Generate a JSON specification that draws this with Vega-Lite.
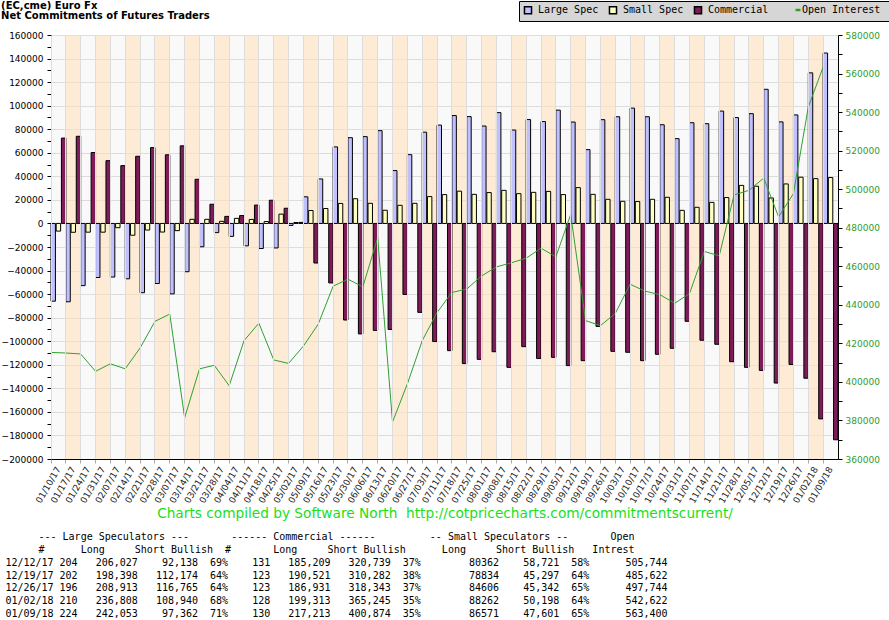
{
  "$schema": "https://vega.github.io/schema/vega-lite/v6.json",
  "padding": {"left": 1, "top": 0, "right": 0, "bottom": 0},
  "spacing": 10,
  "config": {
    "font": "DejaVu Sans",
    "axis": {"labelFont": "DejaVu Sans", "titleFont": "DejaVu Sans"},
    "view": {"stroke": null}
  },
  "vconcat": [
    {
      "width": 787,
      "height": 424,
      "view": {"fill": "#f9f9f9", "stroke": null},
      "title": {
        "text": ["(EC,cme) Euro Fx", "Net Commitments of Futures Traders"],
        "anchor": "start",
        "frame": "bounds",
        "font": "DejaVu Sans",
        "fontSize": 10,
        "fontWeight": "bold",
        "lineHeight": 10,
        "offset": 10,
        "color": "black"
      },
      "data": {
        "values": [
          {"date": "01/10/17", "Large Spec": -66000, "Small Spec": -6500, "Commercial": 72500, "Open Interest": 415300},
          {"date": "01/17/17", "Large Spec": -66500, "Small Spec": -7500, "Commercial": 74000, "Open Interest": 415000},
          {"date": "01/24/17", "Large Spec": -52800, "Small Spec": -7400, "Commercial": 60200, "Open Interest": 414500},
          {"date": "01/31/17", "Large Spec": -45900, "Small Spec": -7400, "Commercial": 53300, "Open Interest": 405500},
          {"date": "02/07/17", "Large Spec": -45500, "Small Spec": -3600, "Commercial": 49100, "Open Interest": 409400},
          {"date": "02/14/17", "Large Spec": -47000, "Small Spec": -10000, "Commercial": 57000, "Open Interest": 406800},
          {"date": "02/21/17", "Large Spec": -58800, "Small Spec": -5600, "Commercial": 64400, "Open Interest": 417600},
          {"date": "02/28/17", "Large Spec": -51000, "Small Spec": -7300, "Commercial": 58300, "Open Interest": 431400},
          {"date": "03/07/17", "Large Spec": -59800, "Small Spec": -6100, "Commercial": 65900, "Open Interest": 435200},
          {"date": "03/14/17", "Large Spec": -41000, "Small Spec": 3500, "Commercial": 37500, "Open Interest": 381400},
          {"date": "03/21/17", "Large Spec": -19800, "Small Spec": 3500, "Commercial": 16300, "Open Interest": 406800},
          {"date": "03/28/17", "Large Spec": -7800, "Small Spec": 1800, "Commercial": 6000, "Open Interest": 408600},
          {"date": "04/04/17", "Large Spec": -11000, "Small Spec": 4300, "Commercial": 6700, "Open Interest": 398000},
          {"date": "04/11/17", "Large Spec": -19000, "Small Spec": 3400, "Commercial": 15600, "Open Interest": 421400},
          {"date": "04/18/17", "Large Spec": -21300, "Small Spec": 1600, "Commercial": 19700, "Open Interest": 430500},
          {"date": "04/25/17", "Large Spec": -20800, "Small Spec": 7900, "Commercial": 12900, "Open Interest": 411400},
          {"date": "05/02/17", "Large Spec": -1700, "Small Spec": 800, "Commercial": 900, "Open Interest": 409600},
          {"date": "05/09/17", "Large Spec": 22600, "Small Spec": 11000, "Commercial": -33600, "Open Interest": 418600},
          {"date": "05/16/17", "Large Spec": 37800, "Small Spec": 12700, "Commercial": -50500, "Open Interest": 430000},
          {"date": "05/23/17", "Large Spec": 65000, "Small Spec": 17000, "Commercial": -82000, "Open Interest": 449700},
          {"date": "05/30/17", "Large Spec": 72800, "Small Spec": 21000, "Commercial": -93800, "Open Interest": 453300},
          {"date": "06/06/17", "Large Spec": 73700, "Small Spec": 17100, "Commercial": -90800, "Open Interest": 449300},
          {"date": "06/13/17", "Large Spec": 78800, "Small Spec": 11200, "Commercial": -90000, "Open Interest": 474800},
          {"date": "06/20/17", "Large Spec": 44900, "Small Spec": 15400, "Commercial": -60300, "Open Interest": 379200},
          {"date": "06/27/17", "Large Spec": 58400, "Small Spec": 17100, "Commercial": -75500, "Open Interest": 399000},
          {"date": "07/03/17", "Large Spec": 77500, "Small Spec": 22800, "Commercial": -100300, "Open Interest": 421400},
          {"date": "07/11/17", "Large Spec": 83500, "Small Spec": 24500, "Commercial": -108000, "Open Interest": 436000},
          {"date": "07/18/17", "Large Spec": 91600, "Small Spec": 27400, "Commercial": -119000, "Open Interest": 446400},
          {"date": "07/25/17", "Large Spec": 90700, "Small Spec": 24700, "Commercial": -115400, "Open Interest": 448200},
          {"date": "08/01/17", "Large Spec": 82700, "Small Spec": 26200, "Commercial": -108900, "Open Interest": 455000},
          {"date": "08/08/17", "Large Spec": 94100, "Small Spec": 28100, "Commercial": -122200, "Open Interest": 459700},
          {"date": "08/15/17", "Large Spec": 79300, "Small Spec": 25300, "Commercial": -104600, "Open Interest": 461800},
          {"date": "08/22/17", "Large Spec": 88200, "Small Spec": 26400, "Commercial": -114600, "Open Interest": 464200},
          {"date": "08/29/17", "Large Spec": 86500, "Small Spec": 27200, "Commercial": -113700, "Open Interest": 469400},
          {"date": "09/05/17", "Large Spec": 96200, "Small Spec": 24500, "Commercial": -120700, "Open Interest": 464900},
          {"date": "09/12/17", "Large Spec": 86100, "Small Spec": 30400, "Commercial": -116500, "Open Interest": 486900},
          {"date": "09/19/17", "Large Spec": 62700, "Small Spec": 24700, "Commercial": -87400, "Open Interest": 431800},
          {"date": "09/26/17", "Large Spec": 88100, "Small Spec": 20500, "Commercial": -108600, "Open Interest": 429200},
          {"date": "10/03/17", "Large Spec": 90600, "Small Spec": 18800, "Commercial": -109400, "Open Interest": 435500},
          {"date": "10/10/17", "Large Spec": 97900, "Small Spec": 18600, "Commercial": -116500, "Open Interest": 450700},
          {"date": "10/17/17", "Large Spec": 90600, "Small Spec": 20500, "Commercial": -111100, "Open Interest": 447100},
          {"date": "10/24/17", "Large Spec": 83800, "Small Spec": 22200, "Commercial": -106000, "Open Interest": 445300},
          {"date": "10/31/17", "Large Spec": 72000, "Small Spec": 11100, "Commercial": -83100, "Open Interest": 440800},
          {"date": "11/07/17", "Large Spec": 85500, "Small Spec": 13700, "Commercial": -99200, "Open Interest": 445800},
          {"date": "11/14/17", "Large Spec": 84700, "Small Spec": 17900, "Commercial": -102600, "Open Interest": 467700},
          {"date": "11/21/17", "Large Spec": 95400, "Small Spec": 22000, "Commercial": -117400, "Open Interest": 465400},
          {"date": "11/28/17", "Large Spec": 89900, "Small Spec": 32300, "Commercial": -122200, "Open Interest": 497000},
          {"date": "12/05/17", "Large Spec": 93200, "Small Spec": 31600, "Commercial": -124800, "Open Interest": 499400},
          {"date": "12/12/17", "Large Spec": 113889, "Small Spec": 21641, "Commercial": -135530, "Open Interest": 505744},
          {"date": "12/19/17", "Large Spec": 86224, "Small Spec": 33537, "Commercial": -119761, "Open Interest": 485622},
          {"date": "12/26/17", "Large Spec": 92148, "Small Spec": 39264, "Commercial": -131412, "Open Interest": 497744},
          {"date": "01/02/18", "Large Spec": 127868, "Small Spec": 38064, "Commercial": -165932, "Open Interest": 542622},
          {"date": "01/09/18", "Large Spec": 144691, "Small Spec": 38970, "Commercial": -183661, "Open Interest": 563400}
        ]
      },
      "layer": [
        {
          "transform": [
            {"window": [{"op": "row_number", "as": "k"}]},
            {"filter": "datum.k % 2 === 0"}
          ],
          "mark": {"type": "rect", "fill": "#ffe1bc", "opacity": 0.6},
          "encoding": {
            "x": {
              "field": "date",
              "type": "ordinal",
              "scale": {
                "domain": ["01/10/17", "01/17/17", "01/24/17", "01/31/17", "02/07/17", "02/14/17", "02/21/17", "02/28/17", "03/07/17", "03/14/17", "03/21/17", "03/28/17", "04/04/17", "04/11/17", "04/18/17", "04/25/17", "05/02/17", "05/09/17", "05/16/17", "05/23/17", "05/30/17", "06/06/17", "06/13/17", "06/20/17", "06/27/17", "07/03/17", "07/11/17", "07/18/17", "07/25/17", "08/01/17", "08/08/17", "08/15/17", "08/22/17", "08/29/17", "09/05/17", "09/12/17", "09/19/17", "09/26/17", "10/03/17", "10/10/17", "10/17/17", "10/24/17", "10/31/17", "11/07/17", "11/14/17", "11/21/17", "11/28/17", "12/05/17", "12/12/17", "12/19/17", "12/26/17", "01/02/18", "01/09/18"],
                "paddingInner": 0,
                "paddingOuter": 0
              },
              "axis": {
                "title": "Charts compiled by Software North\u00a0 http://cotpricecharts.com/commitmentscurrent/",
                "titleColor": "#19e019",
                "titleFontSize": 13.7,
                "titleFontWeight": "normal",
                "titlePadding": 2,
                "bandPosition": 0,
                "labelAngle": -60,
                "labelAlign": "right",
                "labelBaseline": "middle",
                "labelFontSize": 9,
                "labelColor": "#222222",
                "labelPadding": 4,
                "labelOverlap": false,
                "tickSize": 4,
                "tickColor": "#aaaaaa",
                "domainColor": "black",
                "grid": true,
                "gridColor": "#dddddd"
              }
            }
          }
        },
        {
          "transform": [
            {"fold": ["Large Spec", "Small Spec", "Commercial"], "as": ["series", "net"]}
          ],
          "mark": {"type": "bar", "stroke": "black", "strokeWidth": 1},
          "encoding": {
            "x": {"field": "date", "type": "ordinal"},
            "xOffset": {
              "field": "series",
              "type": "nominal",
              "scale": {"domain": ["Large Spec", "Small Spec", "Commercial"], "paddingInner": 0.15, "paddingOuter": 0}
            },
            "y": {
              "field": "net",
              "type": "quantitative",
              "scale": {"domain": [-200000, 160000], "nice": false},
              "axis": {
                "title": null,
                "tickCount": 36,
                "format": "d",
                "labelExpr": "datum.value % 20000 === 0 ? datum.label : ''",
                "labelFontSize": 9,
                "labelColor": "black",
                "labelPadding": 4,
                "tickSize": 4,
                "tickColor": "black",
                "domainColor": "black",
                "grid": true,
                "gridColor": "#dddddd",
                "gridOpacity": {"condition": {"test": "datum.value % 20000 !== 0", "value": 0}, "value": 1}
              }
            },
            "color": {
              "field": "series",
              "type": "nominal",
              "scale": {
                "domain": ["Large Spec", "Small Spec", "Commercial"],
                "range": ["#c0c0ff", "#ffffc0", "#7d1c58"]
              },
              "legend": {
                "orient": "none",
                "legendX": 468,
                "legendY": -34,
                "direction": "horizontal",
                "title": null,
                "fillColor": "#d6d6d6",
                "strokeColor": "black",
                "padding": 4,
                "symbolSize": 50,
                "symbolType": "square",
                "labelFont": "DejaVu Sans Mono",
                "labelFontSize": 10,
                "labelColor": "black",
                "labelOffset": 5,
                "labelLimit": 0,
                "columnPadding": 7,
                "labelExpr": "datum.label === 'Commercial' ? 'Commercial\u2800\u2800\u2800\u2800\u2800\u2800\u2800\u2800\u2800\u2800\u2800\u2800\u2800\u2800\u2800\u2800\u2800\u2800' : datum.label"
              }
            }
          }
        },
        {
          "mark": {"type": "line", "strokeWidth": 1},
          "encoding": {
            "x": {"field": "date", "type": "ordinal", "bandPosition": 0},
            "y": {
              "field": "Open Interest",
              "type": "quantitative",
              "scale": {"domain": [360000, 580000], "nice": false},
              "axis": {
                "orient": "right",
                "title": null,
                "tickCount": 22,
                "format": "d",
                "labelExpr": "datum.value % 20000 === 0 ? datum.label : ''",
                "labelFontSize": 9,
                "labelColor": "#2e9c2e",
                "labelPadding": 3,
                "tickSize": 4,
                "tickColor": "black",
                "domainColor": "black",
                "grid": false
              }
            },
            "stroke": {
              "datum": "Open Interest",
              "type": "nominal",
              "scale": {"domain": ["Open Interest"], "range": ["#30a030"]},
              "legend": {
                "orient": "none",
                "legendX": 742,
                "legendY": -30,
                "title": null,
                "padding": 0,
                "symbolType": "stroke",
                "symbolSize": 25,
                "symbolStrokeWidth": 2.5,
                "labelOffset": -1,
                "labelColor": "black",
                "labelFont": "DejaVu Sans Mono",
                "labelFontSize": 10
              }
            }
          }
        }
      ],
      "resolve": {"scale": {"y": "independent"}}
    },
    {
      "width": 571,
      "height": 89,
      "view": {"stroke": null},
      "data": {
        "values": [
          {"r": 1, "line": "\u00a0\u00a0\u00a0\u00a0\u00a0\u00a0\u00a0\u00a0\u00a0\u00a0\u00a0--- Large Speculators ---\u00a0\u00a0\u00a0\u00a0\u00a0\u00a0\u00a0------ Commercial ------\u00a0\u00a0\u00a0\u00a0\u00a0\u00a0\u00a0\u00a0\u00a0-- Small Speculators --\u00a0\u00a0\u00a0\u00a0\u00a0\u00a0\u00a0Open"},
          {"r": 2, "line": "\u00a0\u00a0\u00a0\u00a0\u00a0\u00a0\u00a0\u00a0\u00a0\u00a0\u00a0#\u00a0\u00a0\u00a0\u00a0\u00a0\u00a0Long\u00a0\u00a0\u00a0\u00a0\u00a0Short Bullish\u00a0\u00a0#\u00a0\u00a0\u00a0\u00a0\u00a0\u00a0\u00a0Long\u00a0\u00a0\u00a0\u00a0\u00a0Short Bullish\u00a0\u00a0\u00a0\u00a0\u00a0\u00a0Long\u00a0\u00a0\u00a0\u00a0\u00a0Short Bullish\u00a0\u00a0\u00a0Intrest"},
          {"r": 3, "line": "12/12/17 204\u00a0\u00a0\u00a0206,027\u00a0\u00a0\u00a0\u00a092,138\u00a0\u00a069%\u00a0\u00a0\u00a0\u00a0131\u00a0\u00a0\u00a0185,209\u00a0\u00a0\u00a0320,739\u00a0\u00a037%\u00a0\u00a0\u00a0\u00a0\u00a0\u00a0\u00a0\u00a080362\u00a0\u00a0\u00a0\u00a058,721\u00a0\u00a058%\u00a0\u00a0\u00a0\u00a0\u00a0\u00a0505,744"},
          {"r": 4, "line": "12/19/17 202\u00a0\u00a0\u00a0198,398\u00a0\u00a0\u00a0112,174\u00a0\u00a064%\u00a0\u00a0\u00a0\u00a0123\u00a0\u00a0\u00a0190,521\u00a0\u00a0\u00a0310,282\u00a0\u00a038%\u00a0\u00a0\u00a0\u00a0\u00a0\u00a0\u00a0\u00a078834\u00a0\u00a0\u00a0\u00a045,297\u00a0\u00a064%\u00a0\u00a0\u00a0\u00a0\u00a0\u00a0485,622"},
          {"r": 5, "line": "12/26/17 196\u00a0\u00a0\u00a0208,913\u00a0\u00a0\u00a0116,765\u00a0\u00a064%\u00a0\u00a0\u00a0\u00a0123\u00a0\u00a0\u00a0186,931\u00a0\u00a0\u00a0318,343\u00a0\u00a037%\u00a0\u00a0\u00a0\u00a0\u00a0\u00a0\u00a0\u00a084606\u00a0\u00a0\u00a0\u00a045,342\u00a0\u00a065%\u00a0\u00a0\u00a0\u00a0\u00a0\u00a0497,744"},
          {"r": 6, "line": "01/02/18 210\u00a0\u00a0\u00a0236,808\u00a0\u00a0\u00a0108,940\u00a0\u00a068%\u00a0\u00a0\u00a0\u00a0128\u00a0\u00a0\u00a0199,313\u00a0\u00a0\u00a0365,245\u00a0\u00a035%\u00a0\u00a0\u00a0\u00a0\u00a0\u00a0\u00a0\u00a088262\u00a0\u00a0\u00a0\u00a050,198\u00a0\u00a064%\u00a0\u00a0\u00a0\u00a0\u00a0\u00a0542,622"},
          {"r": 7, "line": "01/09/18 224\u00a0\u00a0\u00a0242,053\u00a0\u00a0\u00a0\u00a097,362\u00a0\u00a071%\u00a0\u00a0\u00a0\u00a0130\u00a0\u00a0\u00a0217,213\u00a0\u00a0\u00a0400,874\u00a0\u00a035%\u00a0\u00a0\u00a0\u00a0\u00a0\u00a0\u00a0\u00a086571\u00a0\u00a0\u00a0\u00a047,601\u00a0\u00a065%\u00a0\u00a0\u00a0\u00a0\u00a0\u00a0563,400"}
        ]
      },
      "mark": {"type": "text", "font": "DejaVu Sans Mono", "fontSize": 10, "color": "black", "baseline": "middle"},
      "encoding": {
        "y": {"field": "r", "type": "ordinal", "axis": null, "scale": {"paddingInner": 0, "paddingOuter": 0}},
        "text": {"field": "line"}
      }
    }
  ]
}
